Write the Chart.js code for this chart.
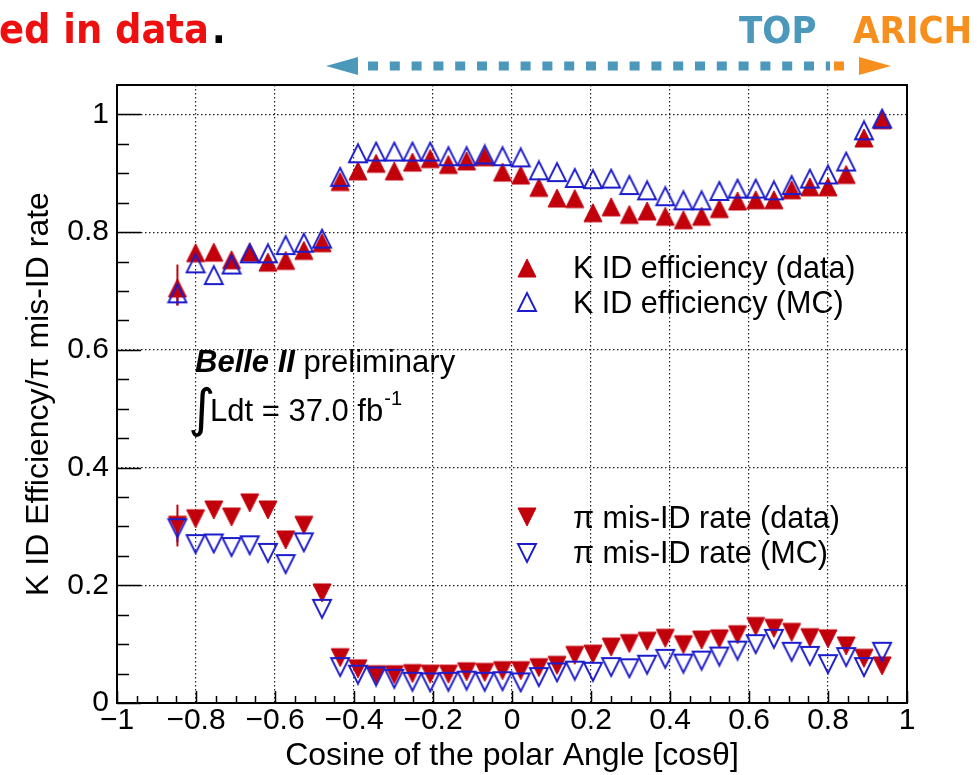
<!DOCTYPE html>
<html>
<head>
<meta charset="utf-8">
<script src="https://cdn.jsdelivr.net/npm/chart.js@4.4.1/dist/chart.umd.min.js"></script>
<style>
  html, body { margin: 0; padding: 0; background: #fff; }
  #wrap { position: relative; width: 977px; height: 775px; }
</style>
</head>
<body>
<div id="wrap"><canvas id="pid-chart"></canvas></div>
<script>
// bin centres along cos(theta)
const cosTheta = [
  -0.847, -0.801, -0.755, -0.710, -0.664, -0.618, -0.573, -0.527, -0.481, -0.435,
  -0.390, -0.344, -0.298, -0.252, -0.207, -0.161, -0.115, -0.069, -0.024,  0.022,
   0.068,  0.114,  0.159,  0.205,  0.251,  0.297,  0.342,  0.388,  0.434,  0.480,
   0.525,  0.571,  0.617,  0.663,  0.708,  0.754,  0.800,  0.846,  0.891,  0.937
];

const kEffData = [
  0.705, 0.765, 0.766, 0.753, 0.766, 0.749, 0.752, 0.769, 0.782, 0.886,
  0.904, 0.917, 0.904, 0.919, 0.925, 0.915, 0.921, 0.928, 0.902, 0.897,
  0.876, 0.858, 0.857, 0.833, 0.843, 0.830, 0.836, 0.827, 0.821, 0.827,
  0.840, 0.853, 0.855, 0.855, 0.872, 0.877, 0.877, 0.898, 0.960, 0.991
];

const kEffMC = [
  0.696, 0.747, 0.727, 0.745, 0.764, 0.764, 0.778, 0.782, 0.789, 0.894,
  0.934, 0.937, 0.937, 0.937, 0.937, 0.929, 0.929, 0.932, 0.929, 0.927,
  0.905, 0.902, 0.892, 0.890, 0.891, 0.880, 0.871, 0.861, 0.854, 0.854,
  0.870, 0.874, 0.874, 0.871, 0.880, 0.891, 0.898, 0.920, 0.973, 0.993
];

const piMisData = [
  0.302, 0.313, 0.328, 0.316, 0.340, 0.328, 0.277, 0.302, 0.187, 0.077,
  0.058, 0.048, 0.048, 0.050, 0.049, 0.049, 0.053, 0.052, 0.055, 0.055,
  0.060, 0.064, 0.081, 0.083, 0.095, 0.101, 0.105, 0.110, 0.099, 0.107,
  0.109, 0.116, 0.130, 0.127, 0.120, 0.111, 0.109, 0.097, 0.076, 0.063
];

const piMisMC = [
  0.297, 0.270, 0.271, 0.265, 0.268, 0.255, 0.236, 0.273, 0.160, 0.061,
  0.048, 0.045, 0.041, 0.036, 0.035, 0.036, 0.038, 0.036, 0.037, 0.035,
  0.044, 0.052, 0.055, 0.053, 0.061, 0.059, 0.065, 0.075, 0.067, 0.072,
  0.079, 0.089, 0.100, 0.109, 0.087, 0.080, 0.066, 0.078, 0.061, 0.087
];

// only the first bin has a visible error bar: [low, high]
const errBin = -0.847;
const kEffDataErr  = [0.675, 0.745];
const kEffMCErr    = [0.676, 0.716];
const piMisDataErr = [0.266, 0.337];
const piMisMCErr   = [0.273, 0.318];

const RED  = '#c2000c';
const BLUE = '#1c1ccc';
const FONT = "'Liberation Sans', Arial, Helvetica, sans-serif";

// ROOT-style triangles (box-centred, width == height)
function makeMarker(fill, stroke, up) {
  const size = 18;
  const c = document.createElement('canvas');
  c.width = 22; c.height = 22;
  const g = c.getContext('2d');
  const h = size / 2, cx = 11, cy = 11;
  g.beginPath();
  if (up) { g.moveTo(cx - h, cy + h); g.lineTo(cx + h, cy + h); g.lineTo(cx, cy - h); }
  else    { g.moveTo(cx - h, cy - h); g.lineTo(cx + h, cy - h); g.lineTo(cx, cy + h); }
  g.closePath();
  if (fill) { g.fillStyle = fill; g.fill(); }
  g.lineWidth = fill ? 1 : 1.9;
  g.strokeStyle = stroke;
  g.stroke();
  return c;
}
const mkUpFull  = makeMarker(RED, RED, true);
const mkUpOpen  = makeMarker(null, BLUE, true);
const mkDnFull  = makeMarker(RED, RED, false);
const mkDnOpen  = makeMarker(null, BLUE, false);

const pts = vals => vals.map((v, i) => ({ x: cosTheta[i], y: v }));
const errPts = e => [{ x: errBin, y: e[0] }, { x: errBin, y: e[1] }];

function markerSet(vals, img, order) {
  return { data: pts(vals), pointStyle: img, pointRadius: 9, showLine: false, order };
}
function errSet(e, color) {
  return { data: errPts(e), showLine: true, borderColor: color, borderWidth: 2, pointRadius: 0, order: 5 };
}

const fmtTick = v => {
  const r = Math.round(v * 10) / 10;
  return r < 0 ? '\u2212' + Math.abs(r) : String(r);
};

// inward ticks, frame, legend and labels
const decor = {
  id: 'decor',
  afterDatasetsDraw(chart) {
    const { ctx, chartArea: a, scales: { x, y } } = chart;
    ctx.save();
    ctx.strokeStyle = '#000';
    ctx.lineWidth = 1.5;
    ctx.beginPath();
    for (let k = 0; k <= 40; k++) {
      const px = Math.round(x.getPixelForValue(-1 + k * 0.05)) + 0.5;
      ctx.moveTo(px, a.bottom);
      ctx.lineTo(px, a.bottom - (k % 4 === 0 ? 12 : 7));
    }
    for (let k = 0; k <= 20; k++) {
      const py = Math.round(y.getPixelForValue(k * 0.05)) + 0.5;
      ctx.moveTo(a.left, py);
      ctx.lineTo(a.left + (k % 4 === 0 ? 24 : 12), py);
    }
    ctx.stroke();
    ctx.lineWidth = 2;
    ctx.strokeRect(a.left, a.top, a.right - a.left, a.bottom - a.top);
    ctx.restore();
  },
  afterDraw(chart) {
    const ctx = chart.ctx;
    ctx.save();
    ctx.fillStyle = '#000';
    ctx.textBaseline = 'alphabetic';

    // legends
    const rows = [
      [mkUpFull, 268, 278, 'K ID efficiency (data)'],
      [mkUpOpen, 302, 313, 'K ID efficiency (MC)'],
      [mkDnFull, 517, 528, '\u03c0 mis-ID rate (data)'],
      [mkDnOpen, 553, 563, '\u03c0 mis-ID rate (MC)']
    ];
    ctx.font = '30.5px ' + FONT;
    rows.forEach(([img, my, by, txt]) => {
      ctx.drawImage(img, 527 - 11, my - 11);
      ctx.fillText(txt, 573, by);
    });

    // experiment label
    ctx.font = 'italic bold 31px ' + FONT;
    ctx.fillText('Belle II', 195, 372);
    const bw = ctx.measureText('Belle II ').width;
    ctx.font = '31px ' + FONT;
    ctx.fillText('preliminary', 195 + bw, 372);

    ctx.font = '52px "DejaVu Sans"';
    ctx.fillText('\u222b', 188, 426);
    ctx.font = '31px ' + FONT;
    ctx.fillText('Ldt = 37.0 fb', 210, 421);
    const lw = ctx.measureText('Ldt = 37.0 fb').width;
    ctx.font = '20px ' + FONT;
    ctx.fillText('-1', 210 + lw + 1, 405);

    // slide header
    ctx.font = 'bold 41px "DejaVu Sans Condensed", "DejaVu Sans", sans-serif';
    ctx.fillStyle = '#ee1010';
    ctx.fillText('ed in data', -1, 43);
    const ew = ctx.measureText('ed in data').width;
    ctx.fillStyle = '#000';
    ctx.fillText('.', ew + 2, 43);
    ctx.font = 'bold 38px "DejaVu Sans Condensed", "DejaVu Sans", sans-serif';
    ctx.fillStyle = '#4b98bb';
    ctx.fillText('TOP', 739, 43);
    ctx.fillStyle = '#f78f1e';
    ctx.fillText('ARICH', 853, 43);

    // detector coverage arrow
    ctx.fillStyle = '#4b98bb';
    ctx.beginPath();
    ctx.moveTo(326, 66); ctx.lineTo(358, 57); ctx.lineTo(358, 75); ctx.closePath();
    ctx.fill();
    ctx.strokeStyle = '#4b98bb';
    ctx.lineWidth = 9;
    ctx.setLineDash([10, 11.8]);
    ctx.beginPath();
    ctx.moveTo(368, 66); ctx.lineTo(830, 66);
    ctx.stroke();
    ctx.setLineDash([]);
    ctx.fillStyle = '#f78f1e';
    ctx.fillRect(834, 61.5, 10, 9);
    ctx.beginPath();
    ctx.moveTo(891, 66); ctx.lineTo(859, 57); ctx.lineTo(859, 75); ctx.closePath();
    ctx.fill();
    ctx.restore();
  }
};

new Chart(document.getElementById('pid-chart'), {
  type: 'scatter',
  data: {
    datasets: [
      markerSet(kEffMC, mkUpOpen, 0),
      markerSet(piMisMC, mkDnOpen, 0),
      markerSet(kEffData, mkUpFull, 1),
      markerSet(piMisData, mkDnFull, 1),
      errSet(kEffDataErr, RED),
      errSet(piMisDataErr, RED),
      errSet(kEffMCErr, BLUE),
      errSet(piMisMCErr, BLUE)
    ]
  },
  options: {
    responsive: true,
    maintainAspectRatio: false,
    animation: false,
    layout: { padding: { top: 85, right: 70, bottom: 0, left: 0 } },
    plugins: { legend: { display: false }, tooltip: { enabled: false } },
    scales: {
      x: {
        type: 'linear', min: -1, max: 1,
        afterFit: s => { s.height = 72; },
        ticks: { stepSize: 0.2, autoSkip: false, maxRotation: 0, padding: 0, color: '#000',
                 font: { family: FONT, size: 30 }, callback: fmtTick },
        grid: { color: '#222', lineWidth: 1.2, drawTicks: false },
        border: { display: false, dash: [1.5, 2.5] },
        title: { display: true, text: 'Cosine of the polar Angle [cos\u03b8]', color: '#000',
                 font: { family: FONT, size: 32 }, padding: 0 }
      },
      y: {
        type: 'linear', min: 0, max: 1.05,
        afterFit: s => { s.width = 117; },
        ticks: { stepSize: 0.2, includeBounds: false, padding: 8, color: '#000',
                 font: { family: FONT, size: 30 }, callback: fmtTick },
        grid: { color: '#222', lineWidth: 1.2, drawTicks: false },
        border: { display: false, dash: [1.5, 2.5] },
        title: { display: true, text: 'K ID Efficiency/\u03c0 mis-ID rate', color: '#000',
                 font: { family: FONT, size: 32 }, padding: { top: 20, bottom: 0 } }
      }
    }
  },
  plugins: [decor]
});
</script>
</body>
</html>
